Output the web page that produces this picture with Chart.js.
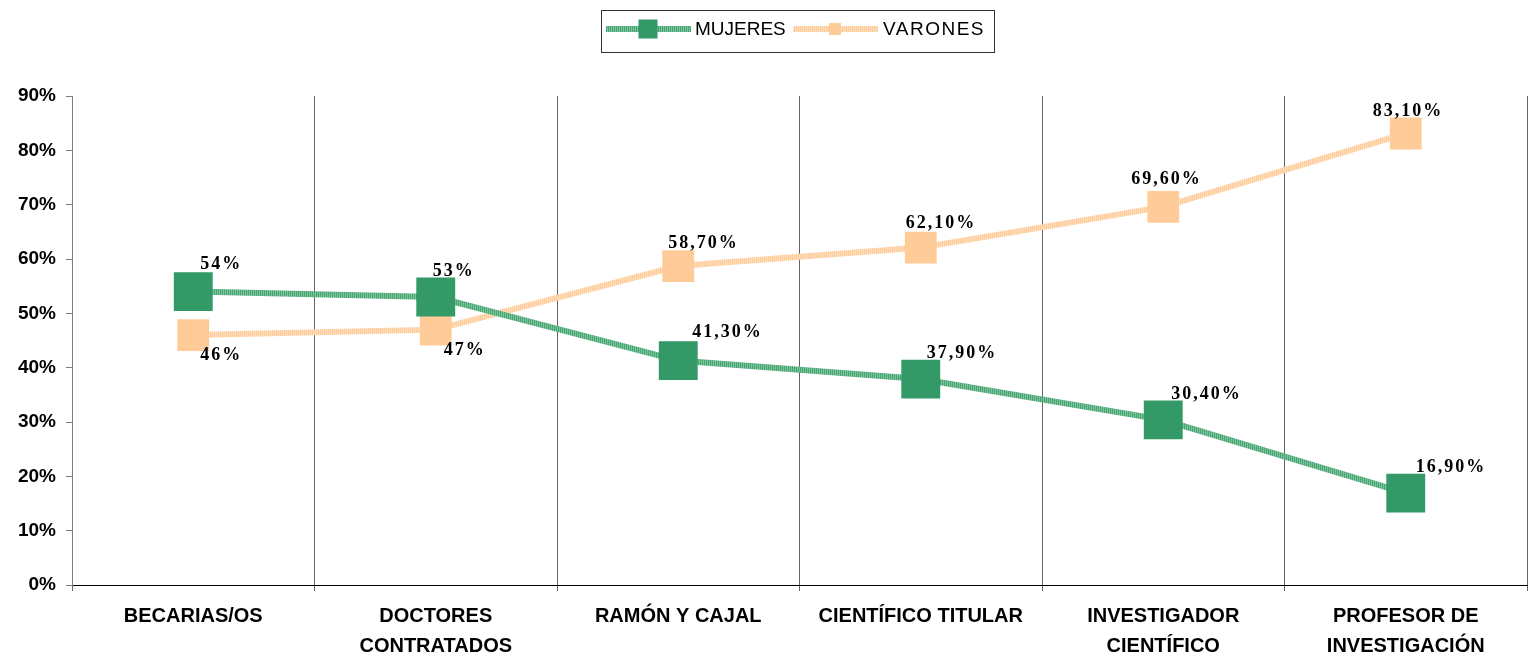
<!DOCTYPE html>
<html>
<head>
<meta charset="utf-8">
<script src="https://cdn.jsdelivr.net/npm/chart.js@4/dist/chart.umd.min.js"></script>
<style>
  html, body { margin: 0; padding: 0; background: #fff; overflow: hidden; }
  canvas { display: block; }
</style>
</head>
<body>
<canvas id="line-chart" width="1532" height="667"></canvas>
<script>
// datos
var categorias = [
  "BECARIAS/OS",
  ["DOCTORES", "CONTRATADOS"],
  "RAMÓN Y CAJAL",
  "CIENTÍFICO TITULAR",
  ["INVESTIGADOR", "CIENTÍFICO"],
  ["PROFESOR DE", "INVESTIGACIÓN"]
];
var mujeres = [54, 53, 41.3, 37.9, 30.4, 16.9];
var varones = [46, 47, 58.7, 62.1, 69.6, 83.1];
var etiquetasMujeres = ["54%", "53%", "41,30%", "37,90%", "30,40%", "16,90%"];
var etiquetasVarones = ["46%", "47%", "58,70%", "62,10%", "69,60%", "83,10%"];
var ticksY = [0, 10, 20, 30, 40, 50, 60, 70, 80, 90];

var verde = "#339966";
var naranja = "#FFCC99";

// trama rayada de las lineas (como en excel)
function rayado(c1, c2) {
  var cv = document.createElement("canvas");
  cv.width = 2; cv.height = 2;
  var cx = cv.getContext("2d");
  cx.fillStyle = c1; cx.fillRect(0, 0, 1, 2);
  cx.fillStyle = c2; cx.fillRect(1, 0, 1, 2);
  return cx.createPattern(cv, "repeat");
}

// etiquetas de datos en serif negrita
var etiquetasPlugin = {
  id: "etiquetas",
  afterDatasetsDraw: function(chart, args, opts) {
    var ctx = chart.ctx;
    ctx.save();
    ctx.font = "bold 18px 'Liberation Serif', 'Times New Roman', serif";
    ctx.letterSpacing = "2px";
    ctx.fillStyle = "#000";
    ctx.textAlign = "left";
    ctx.textBaseline = "middle";
    chart.data.datasets.forEach(function(ds, i) {
      var meta = chart.getDatasetMeta(i);
      var offs = opts.desplaz[i];
      meta.data.forEach(function(pt, j) {
        ctx.fillText(ds.etiquetas[j], pt.x + offs[j][0], pt.y + offs[j][1]);
      });
    });
    ctx.restore();
  }
};

// leyenda con linea + marcador
var leyendaPlugin = {
  id: "leyenda",
  afterDraw: function(chart) {
    var ctx = chart.ctx;
    ctx.save();
    ctx.strokeStyle = "#333";
    ctx.lineWidth = 1;
    ctx.strokeRect(601.5, 10.5, 393, 42);
    var y = 29;
    var items = [
      { x: 606, ds: chart.data.datasets[0], m: 19, tx: 695, ls: "0px" },
      { x: 793, ds: chart.data.datasets[1], m: 12, tx: 883, ls: "1.5px" }
    ];
    ctx.font = "19px 'Liberation Sans', Arial, sans-serif";
    ctx.textBaseline = "middle";
    items.forEach(function(it) {
      ctx.strokeStyle = it.ds.borderColor;
      ctx.lineWidth = 6;
      ctx.beginPath();
      ctx.moveTo(it.x, y);
      ctx.lineTo(it.x + 85, y);
      ctx.stroke();
      ctx.fillStyle = it.ds.pointBackgroundColor;
      ctx.fillRect(it.x + 42 - it.m / 2, y - it.m / 2, it.m, it.m);
      ctx.fillStyle = "#000";
      ctx.letterSpacing = it.ls;
      ctx.fillText(it.ds.label, it.tx, y + 1);
    });
    ctx.restore();
  }
};

new Chart(document.getElementById("line-chart"), {
  type: "line",
  data: {
    labels: categorias,
    datasets: [{
      label: "MUJERES",
      data: mujeres,
      etiquetas: etiquetasMujeres,
      borderColor: rayado("rgb(70,165,115)", "rgb(125,195,155)"),
      borderWidth: 6,
      pointStyle: "rect",
      pointRadius: 27.5,
      pointHoverRadius: 27.5,
      pointBorderWidth: 0,
      pointBackgroundColor: verde,
      pointBorderColor: verde,
      tension: 0,
      fill: false
    }, {
      label: "VARONES",
      data: varones,
      etiquetas: etiquetasVarones,
      borderColor: rayado("rgb(255,204,153)", "rgb(255,222,190)"),
      borderWidth: 6,
      pointStyle: "rect",
      pointRadius: 22.5,
      pointHoverRadius: 22.5,
      pointBorderWidth: 0,
      pointBackgroundColor: naranja,
      pointBorderColor: naranja,
      tension: 0,
      fill: false
    }]
  },
  options: {
    responsive: false,
    animation: false,
    layout: { autoPadding: false, padding: { top: 96, right: 5, left: 0, bottom: 0 } },
    plugins: {
      legend: { display: false },
      tooltip: { enabled: false },
      etiquetas: {
        desplaz: [
          [[7, -27], [-3, -26], [14, -28], [6, -26], [8, -25], [10, -26]],
          [[7, 20], [8, 21], [-10, -23], [-15, -24], [-32, -27], [-33, -22]]
        ]
      }
    },
    scales: {
      x: {
        z: 1,
        offset: true,
        grid: {
          offset: true,
          color: "#666",
          lineWidth: 1,
          drawTicks: true,
          tickLength: 6
        },
        border: { color: "#000", width: 1 },
        ticks: {
          color: "#000",
          font: { family: "'Liberation Sans', Arial, sans-serif", size: 20, weight: "bold", lineHeight: 1.5 },
          padding: 10,
          maxRotation: 0,
          autoSkip: false
        },
        afterFit: function(scale) {
          scale.height = 82;
          scale.paddingLeft = 0;
          scale.paddingRight = 0;
        }
      },
      y: {
        min: 0,
        max: 90,
        afterBuildTicks: function(scale) {
          scale.ticks = ticksY.map(function(v) { return { value: v }; });
        },
        grid: {
          drawOnChartArea: false,
          drawTicks: true,
          tickLength: 6,
          color: "#808080"
        },
        border: { color: "#808080", width: 1 },
        ticks: {
          color: "#000",
          padding: 10,
          font: { family: "'Liberation Sans', Arial, sans-serif", size: 19, weight: "bold" },
          callback: function(v) { return v + "%"; }
        },
        afterFit: function(scale) { scale.width = 72; }
      }
    }
  },
  plugins: [etiquetasPlugin, leyendaPlugin]
});
</script>
</body>
</html>
